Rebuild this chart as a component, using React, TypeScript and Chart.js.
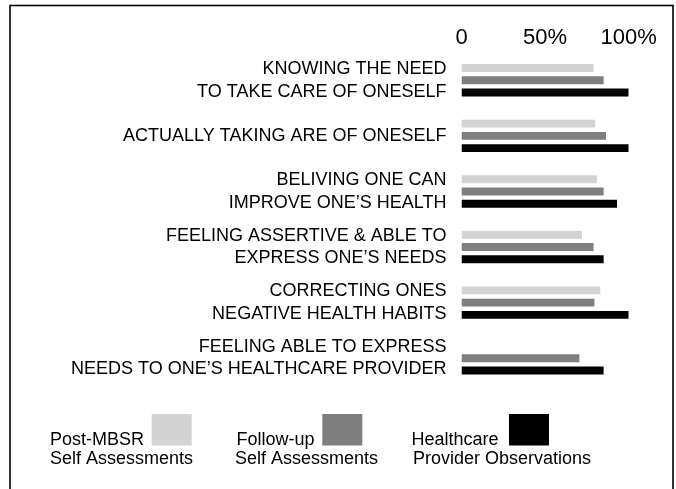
import React, { useEffect, useRef } from "react";
import { Chart, registerables } from "chart.js";

Chart.register(...registerables);

// ---- data ----
const categories: string[][] = [
  ["KNOWING THE NEED", "TO TAKE CARE OF ONESELF"],
  ["ACTUALLY TAKING ARE OF ONESELF"],
  ["BELIVING ONE CAN", "IMPROVE ONE\u2019S HEALTH"],
  ["FEELING ASSERTIVE & ABLE TO", "EXPRESS ONE\u2019S NEEDS"],
  ["CORRECTING ONES", "NEGATIVE HEALTH HABITS"],
  ["FEELING ABLE TO EXPRESS", "NEEDS TO ONE\u2019S HEALTHCARE PROVIDER"],
];
const postMbsr: (number | null)[] = [79, 80, 81, 72, 83, null];
const followUp: number[] = [85, 86.5, 85, 79, 79.5, 70.5];
const provider: number[] = [100, 100, 93, 85, 100, 85];
const seriesLabels: string[][] = [
  ["Post-MBSR", "Self Assessments"],
  ["Follow-up", "Self Assessments"],
  ["Healthcare", "Provider Observations"],
];
const seriesColors = ["#d3d3d3", "#7f7f7f", "#000000"];
const xMin = 0;
const xMax = 100;
const xStep = 50;

const FONT = "'Liberation Sans', Arial, Helvetica, sans-serif";

const framePlugin = {
  id: "frameAndLegend",
  afterDraw(chart: any) {
    const ctx = chart.ctx as CanvasRenderingContext2D;
    ctx.save();
    ctx.strokeStyle = "#000";
    ctx.lineWidth = 1.6;
    ctx.strokeRect(10, 5.5, 663, 600);

    const line1X = [50, 236.5, 411.5];
    const line2X = [50, 235, 413];
    const boxX = [151.7, 322.3, 509];
    ctx.font = `18px ${FONT}`;
    ctx.textBaseline = "alphabetic";
    ctx.textAlign = "left";
    chart.data.datasets.forEach((ds: any, i: number) => {
      const lines = seriesLabels[i];
      ctx.fillStyle = "#000";
      ctx.fillText(lines[0], line1X[i], 445);
      ctx.fillText(lines[1], line2X[i], 463.5);
      ctx.fillStyle = ds.backgroundColor;
      ctx.fillRect(boxX[i], 414, 40, 31.5);
    });
    ctx.restore();
  },
};

export default function App() {
  const canvasRef = useRef<HTMLCanvasElement | null>(null);

  useEffect(() => {
    if (!canvasRef.current) return;
    const chart = new Chart(canvasRef.current, {
      type: "bar",
      data: {
        labels: categories,
        datasets: [
          { label: seriesLabels[0].join(" "), data: postMbsr, backgroundColor: seriesColors[0] },
          { label: seriesLabels[1].join(" "), data: followUp, backgroundColor: seriesColors[1] },
          { label: seriesLabels[2].join(" "), data: provider, backgroundColor: seriesColors[2] },
        ],
      },
      options: {
        indexAxis: "y",
        responsive: false,
        animation: false,
        devicePixelRatio: 1,
        layout: { padding: { left: 0, top: 0, right: 47.3, bottom: 103 } },
        datasets: {
          bar: { categoryPercentage: 0.66, barPercentage: 0.65 },
        },
        plugins: {
          legend: { display: false },
          tooltip: { enabled: false },
          title: { display: false },
        },
        scales: {
          x: {
            position: "top",
            min: xMin,
            max: xMax,
            grid: { display: false, drawTicks: false },
            border: { display: false },
            ticks: {
              stepSize: xStep,
              padding: 1,
              color: "#000",
              font: { family: FONT, size: 22, lineHeight: 1.2 },
              callback: (v: any) => (Number(v) === 0 ? "0" : `${v}%`),
            },
            afterFit: (scale: any) => {
              scale.height = 52.5;
            },
          },
          y: {
            position: "left",
            grid: { display: false, drawTicks: false },
            border: { display: false },
            ticks: {
              padding: 15,
              color: "#000",
              autoSkip: false,
              font: { family: FONT, size: 18, lineHeight: 1.25 },
            },
            afterFit: (scale: any) => {
              scale.width = 461.5;
            },
          },
        },
      },
      plugins: [framePlugin],
    } as any);
    return () => chart.destroy();
  }, []);

  return (
    <div style={{ position: "absolute", left: 0, top: 0, width: 676, height: 489, background: "#fff" }}>
      <canvas ref={canvasRef} width={676} height={489} />
    </div>
  );
}
